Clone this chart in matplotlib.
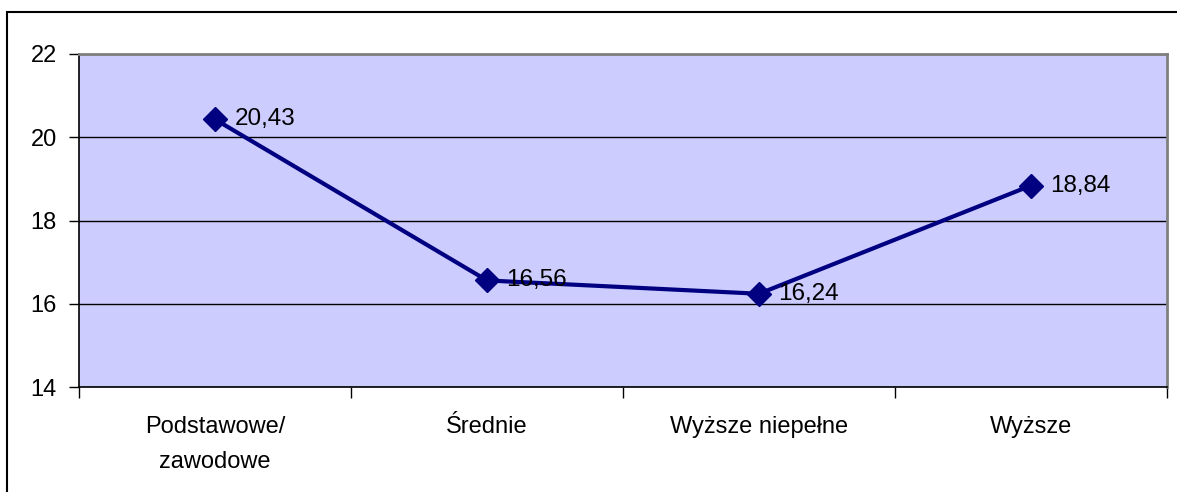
import matplotlib.pyplot as plt
from matplotlib.patches import Rectangle

categories = ["Podstawowe/\nzawodowe", "Średnie", "Wyższe niepełne", "Wyższe"]
values = [20.43, 16.56, 16.24, 18.84]
value_labels = ["20,43", "16,56", "16,24", "18,84"]
y_ticks = [14, 16, 18, 20, 22]

plt.rcParams["font.family"] = ["Liberation Sans", "DejaVu Sans"]

W, H = 1177, 492
fig = plt.figure(figsize=(W / 100, H / 100), dpi=100)
ax = fig.add_axes([79 / W, 1 - 387 / H, (1167 - 79) / W, (387 - 54) / H])

# outer chart frame (only top and left edges visible)
fig.patches.append(Rectangle((7 / W, -0.1), 1.2, (H - 12) / H + 0.1, transform=fig.transFigure,
                             fill=False, edgecolor="black", linewidth=1.5, clip_on=False))

ax.set_facecolor("#CCCCFF")
x = list(range(len(categories)))
ax.plot(x, values, color="#000080", linewidth=3, marker="D", markersize=12, zorder=3)
for xi, v, lab in zip(x, values, value_labels):
    ax.annotate(lab, (xi, v), xytext=(14, 0), textcoords="offset points",
                va="center", ha="left", fontsize=17.5, color="black", zorder=4)

ax.set_xlim(-0.5, len(categories) - 0.5)
ax.set_ylim(14, 22)
ax.set_yticks(y_ticks)
ax.yaxis.grid(True, color="black", linewidth=1)
ax.set_axisbelow(True)
ax.tick_params(axis="y", labelsize=17, length=7, width=1, direction="out", pad=9)

ax.set_xticks([i - 0.5 for i in range(len(categories) + 1)])
ax.set_xticklabels([])
ax.set_xticks(x, minor=True)
ax.set_xticklabels(categories, minor=True, fontsize=17, linespacing=1.75)
ax.tick_params(axis="x", which="major", length=8, width=1, direction="out")
ax.tick_params(axis="x", which="minor", length=0, pad=21)

for side in ["top", "right"]:
    ax.spines[side].set_color("#808080")
    ax.spines[side].set_linewidth(2)
for side in ["left", "bottom"]:
    ax.spines[side].set_color("black")
    ax.spines[side].set_linewidth(1.2)

fig.savefig("out.png", dpi=100)
